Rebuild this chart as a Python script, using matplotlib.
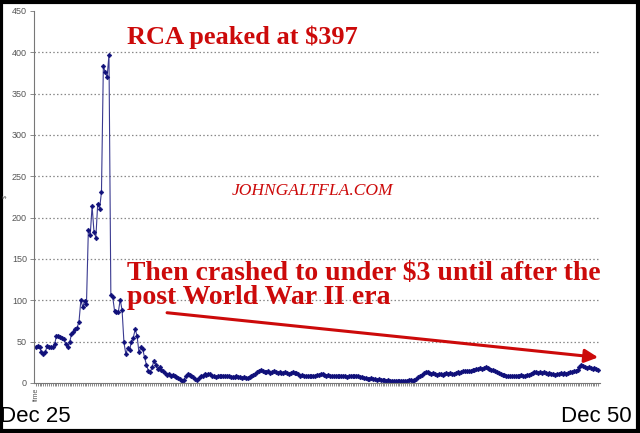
import matplotlib
matplotlib.use("Agg")
import matplotlib.pyplot as plt
from matplotlib.patches import Rectangle

# precio mensual RCA, dic 1925 - dic 1950
precio_1925_1930 = [43, 45, 43, 37, 35, 37, 45, 44, 44, 43, 47, 57, 57, 56, 55, 53, 47, 43, 49, 59,
                    62, 65, 67, 74, 100, 92, 99, 96, 185, 179, 214, 183, 176, 217, 211, 231, 383, 376, 370, 397,
                    107, 104, 87, 86, 86, 101, 88, 49, 35, 42, 40, 50, 55, 65, 57, 37, 43, 41, 31, 22]
precio_1930_1935 = [15, 13, 19, 27, 22, 17, 19, 16, 14, 12, 10, 11, 9, 10, 8, 7, 6, 5, 3, 4,
                    8, 11, 10, 8, 7, 5, 4, 6, 9, 9, 11, 10, 11, 11, 9, 8, 7, 8, 9, 9,
                    8, 9, 8, 8, 7, 7, 7, 8, 7, 7, 6, 7, 6, 6, 7, 8, 10, 11, 13, 15]
precio_1935_1940 = [16, 15, 13, 13, 14, 12, 13, 14, 13, 12, 13, 12, 12, 13, 12, 11, 12, 13, 12, 12,
                    11, 9, 10, 9, 9, 8, 8, 8, 9, 9, 10, 10, 11, 11, 10, 9, 10, 9, 8, 8,
                    9, 8, 8, 9, 8, 8, 7, 8, 9, 8, 9, 9, 8, 7, 7, 6, 6, 5, 5, 6]
precio_1940_1945 = [5, 5, 4, 5, 4, 4, 4, 3, 4, 3, 3, 3, 2, 3, 2, 3, 3, 2, 3, 4,
                    4, 3, 4, 5, 7, 8, 10, 12, 13, 13, 12, 11, 12, 11, 10, 11, 11, 10, 11, 12,
                    11, 12, 11, 11, 12, 13, 12, 13, 14, 14, 15, 14, 15, 16, 16, 17, 17, 18, 17, 18]
precio_1945_1950 = [19, 18, 17, 16, 16, 14, 13, 12, 11, 10, 10, 9, 9, 8, 8, 8, 9, 8, 9, 10,
                    9, 9, 10, 10, 11, 12, 13, 13, 12, 13, 12, 13, 12, 11, 12, 11, 11, 10, 11, 11,
                    12, 11, 12, 11, 12, 13, 13, 14, 15, 16, 19, 22, 21, 19, 18, 19, 18, 17, 18, 17, 16]

precio = precio_1925_1930 + precio_1930_1935 + precio_1935_1940 + precio_1940_1945 + precio_1945_1950
meses = list(range(len(precio)))

etiquetas_y = [0, 50, 100, 150, 200, 250, 300, 350, 400, 450]
rojo = '#cc0a0a'
azul = '#10107a'

fig = plt.figure(figsize=(6.4, 4.33), dpi=100)
ax = fig.add_axes([34/640, 50/433, 566/640, 372/433])

ax.plot(meses, precio, color='#3a3a90', lw=0.8, marker='D', ms=2.4,
        markerfacecolor=azul, markeredgecolor=azul, markeredgewidth=0.4)

ax.set_xlim(-1, 301)
ax.set_ylim(0, 450)
ax.set_yticks(etiquetas_y)
ax.set_yticklabels([str(v) for v in etiquetas_y], fontsize=6.5, color='#555555', family='Liberation Sans')
ax.set_xticks(meses)
ax.set_xticklabels([])
ax.tick_params(axis='x', length=2.5, width=0.6, color='#777777')
ax.tick_params(axis='y', length=3, width=0.6, color='#777777', pad=2)

for v in etiquetas_y[1:-1]:
    ax.axhline(v, color='#888888', lw=0.9, ls=(0, (1.2, 1.8)), zorder=0)

for lado in ['top', 'right']:
    ax.spines[lado].set_visible(False)
ax.spines['left'].set_color('#777777')
ax.spines['bottom'].set_color('#777777')
ax.spines['left'].set_linewidth(0.8)
ax.spines['bottom'].set_linewidth(0.8)

# textos
fig.text(127/640, 1 - 44/433, 'RCA peaked at $397', color=rojo, fontsize=19,
         fontweight='bold', family='Liberation Serif', va='baseline')
fig.text(232/640, 1 - 195/433, 'JOHNGALTFLA.COM', color=rojo, fontsize=12.6,
         style='italic', family='Liberation Serif', va='baseline')
fig.text(127/640, 1 - 280/433, 'Then crashed to under $3 until after the', color=rojo,
         fontsize=20, fontweight='bold', family='Liberation Serif', va='baseline')
fig.text(127/640, 1 - 304/433, 'post World War II era', color=rojo,
         fontsize=20, fontweight='bold', family='Liberation Serif', va='baseline')

ax.annotate('', xy=(300, 31), xytext=(70, 85),
            arrowprops=dict(arrowstyle='-|>', color=rojo, lw=2.2, mutation_scale=20,
                            shrinkA=0, shrinkB=0))

fig.text(0/640, 1 - 422/433, 'Dec 25', fontsize=16, family='Liberation Sans', va='baseline')
fig.text(632/640, 1 - 422/433, 'Dec 50', fontsize=16, family='Liberation Sans', va='baseline', ha='right')
fig.text(36/640, 1 - 394/433, 'time', fontsize=5, color='#555555', rotation=90,
         family='Liberation Sans', va='center', ha='center')
fig.text(5/640, 1 - 196/433, '$', fontsize=4, color='#555555', rotation=90,
         family='Liberation Sans', va='center', ha='center')

# marco negro
fig.patches.append(Rectangle((0.0015, 0.004), 0.9955, 0.9925, transform=fig.transFigure,
                             fill=False, edgecolor='black', lw=3))

fig.savefig('out.png', dpi=100)
